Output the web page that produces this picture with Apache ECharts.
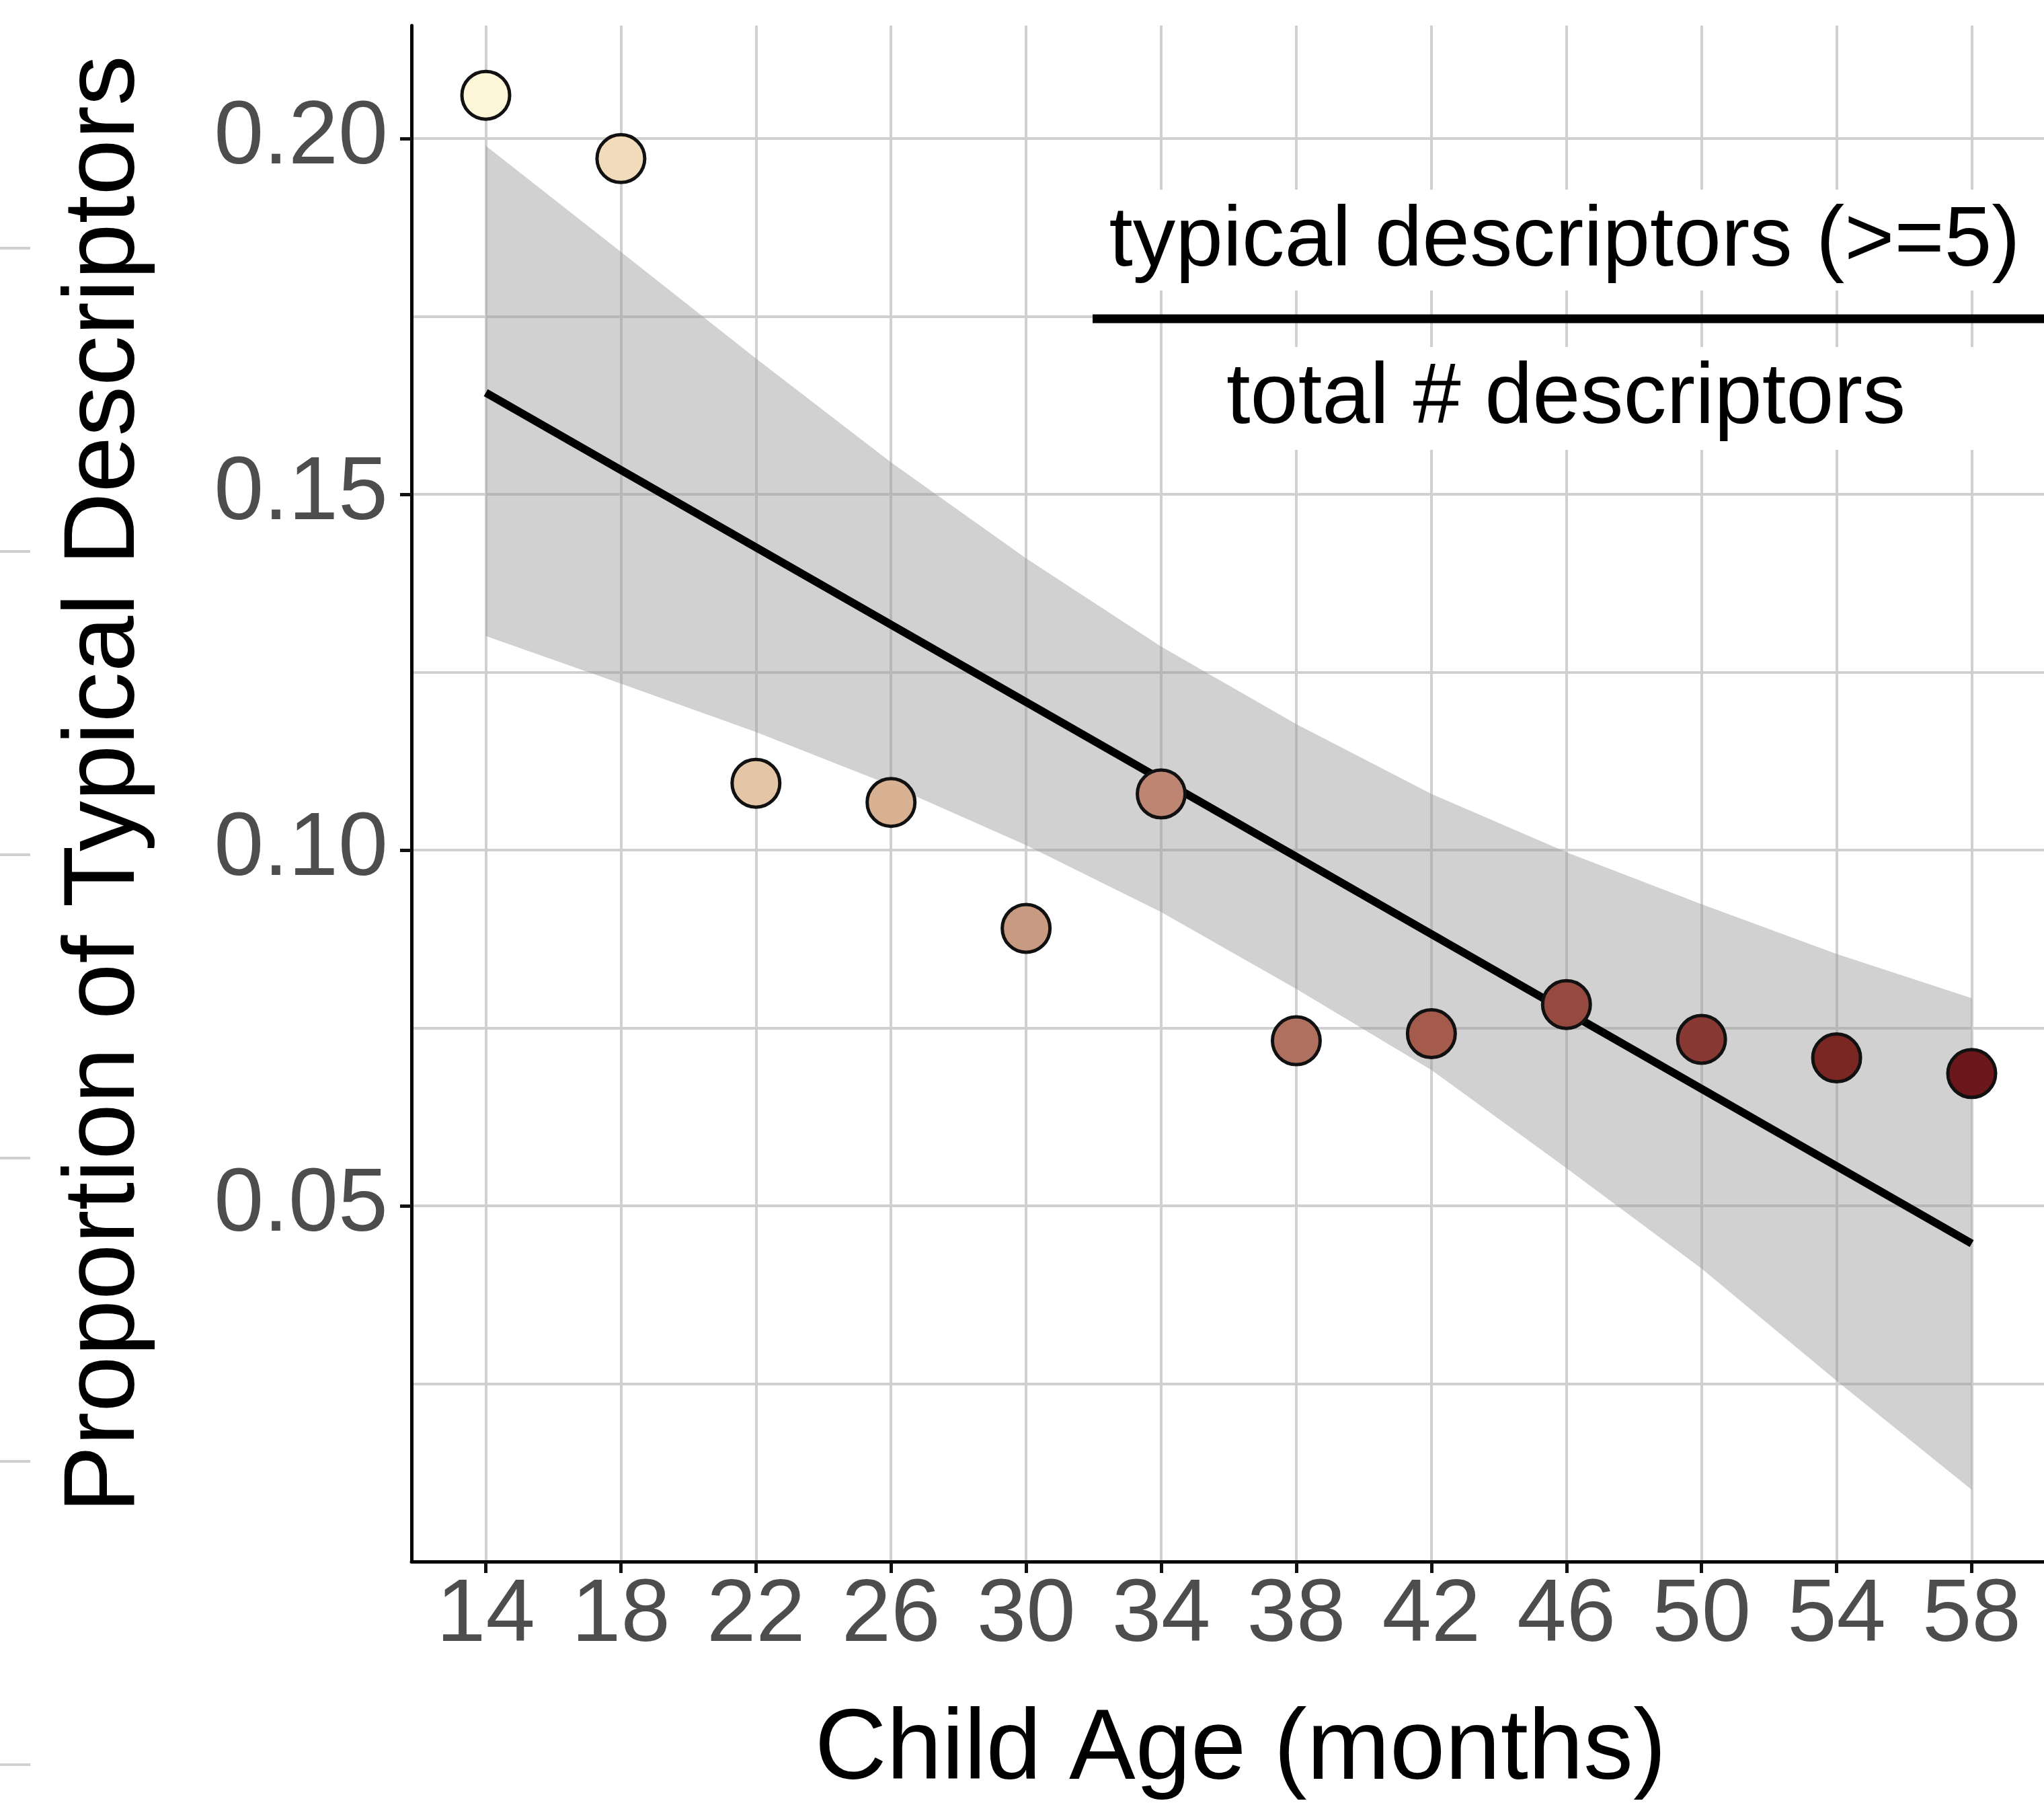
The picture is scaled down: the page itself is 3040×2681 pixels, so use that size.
<!DOCTYPE html>
<html>
<head>
<meta charset="utf-8">
<script src="https://cdn.jsdelivr.net/npm/echarts@6/dist/echarts.min.js"></script>
<style>
  html, body { margin: 0; padding: 0; background: #ffffff; }
  #chart { width: 3040px; height: 2681px; }
</style>
</head>
<body>
<div id="chart"></div>
<script>
// ---- data ----
const ages = [14, 18, 22, 26, 30, 34, 38, 42, 46, 50, 54, 58];
const proportions = [0.2061, 0.1972, 0.1094, 0.1067, 0.0890, 0.1079, 0.0732, 0.0742, 0.0783, 0.0734, 0.0708, 0.0686];
const pointColors = ['#FEF6D8', '#F1DBBA', '#E4C6A6', '#D8B092', '#C99A82', '#BE8672', '#B07060', '#A45B4C', '#964A3F', '#883933', '#7A2724', '#6B171B'];
const fitAges = [14, 58];
const fitValues = [0.1643, 0.0447];
const ciUpper = [0.1990, 0.1841, 0.1691, 0.1545, 0.1410, 0.1286, 0.1177, 0.1079, 0.0997, 0.0924, 0.0854, 0.0792];
const ciLower = [0.1301, 0.1234, 0.1166, 0.1091, 0.1007, 0.0913, 0.0805, 0.0691, 0.0553, 0.0412, 0.0254, 0.0101];
const xTickValues = [14, 18, 22, 26, 30, 34, 38, 42, 46, 50, 54, 58];
const yTickValues = [0.05, 0.10, 0.15, 0.20];
const xTitle = 'Child Age (months)';
const yTitle = 'Proportion of Typical Descriptors';
const noteTop = 'typical descriptors (>=5)';
const noteBottom = 'total # descriptors';

const FONT = '"Liberation Sans", Arial, Helvetica, sans-serif';
const GRID_COLOR = '#d0d0d0';

const chart = echarts.init(document.getElementById('chart'), null, { renderer: 'canvas' });

const scatterData = ages.map((a, i) => ({
  value: [a, proportions[i]],
  itemStyle: { color: pointColors[i] }
}));

const artifactYs = [369, 820, 1271, 1722, 2173, 2624];
const artifacts = artifactYs.map(y => ({
  type: 'line', z: 5,
  shape: { x1: 0, y1: y, x2: 45, y2: y },
  style: { stroke: '#cfcfcf', lineWidth: 4 }
}));

const option = {
  animation: false,
  backgroundColor: '#ffffff',
  grid: { left: 612, top: 38, width: 2431, height: 2284, containLabel: false, outerBoundsMode: 'none' },
  xAxis: {
    type: 'value', min: 11.8, max: 60.2,
    axisLine: { show: true, onZero: false, lineStyle: { color: '#000', width: 5 } },
    axisTick: { show: true, length: 17, customValues: xTickValues, lineStyle: { color: '#111', width: 5 } },
    axisLabel: { show: true, customValues: xTickValues, margin: 16, fontSize: 132, color: '#4d4d4d', fontFamily: FONT },
    splitLine: { show: true, lineStyle: { color: GRID_COLOR, width: 4 } }
  },
  yAxis: {
    type: 'value', min: 0, max: 0.2159, interval: 0.05,
    axisLine: { show: true, onZero: false, lineStyle: { color: '#000', width: 5 } },
    axisTick: { show: true, length: 17, customValues: yTickValues, lineStyle: { color: '#111', width: 5 } },
    axisLabel: {
      show: true, customValues: yTickValues, margin: 35, fontSize: 133, color: '#4d4d4d', fontFamily: FONT,
      formatter: v => (v === 0 ? '' : Number(v).toFixed(2))
    },
    splitLine: { show: true, lineStyle: { color: GRID_COLOR, width: 4 } },
    minorTick: { show: false, splitNumber: 2 },
    minorSplitLine: { show: true, lineStyle: { color: GRID_COLOR, width: 4 } }
  },
  series: [
    {
      type: 'custom', name: 'CI', z: 2, silent: true, clip: false,
      data: [[ages[0], ciUpper[0]]],
      encode: { x: 0, y: 1 },
      renderItem: function (params, api) {
        if (params.dataIndex !== 0) return null;
        const pts = [];
        for (let i = 0; i < ages.length; i++) pts.push(api.coord([ages[i], ciUpper[i]]));
        for (let i = ages.length - 1; i >= 0; i--) pts.push(api.coord([ages[i], ciLower[i]]));
        return { type: 'polygon', shape: { points: pts }, style: { fill: 'rgba(153,153,153,0.45)' } };
      }
    },
    {
      type: 'line', name: 'fit', z: 3, silent: true,
      data: fitAges.map((a, i) => [a, fitValues[i]]),
      symbol: 'none',
      lineStyle: { color: '#000', width: 12, cap: 'butt' }
    },
    {
      type: 'scatter', name: 'proportion', z: 4,
      data: scatterData,
      symbol: 'circle', symbolSize: 71,
      itemStyle: { borderColor: '#111', borderWidth: 5, opacity: 1 }
    }
  ],
  graphic: [
    {
      type: 'text', x: 158, y: 1166, rotation: Math.PI / 2, z: 10,
      style: { text: yTitle, font: '150px ' + FONT, fill: '#000', textAlign: 'center', textVerticalAlign: 'middle' }
    },
    {
      type: 'text', x: 1845, y: 2604, z: 10,
      style: { text: xTitle, font: '148px ' + FONT, fill: '#000', textAlign: 'center', textVerticalAlign: 'middle' }
    },
    { type: 'rect', z: 8, shape: { x: 1630, y: 282, width: 1410, height: 150 }, style: { fill: '#ffffff' } },
    { type: 'rect', z: 8, shape: { x: 1760, y: 516, width: 1210, height: 153 }, style: { fill: '#ffffff' } },
    {
      type: 'text', x: 2327, y: 360, z: 10,
      style: { text: noteTop, font: '127px ' + FONT, fill: '#000', textAlign: 'center', textVerticalAlign: 'middle' }
    },
    {
      type: 'text', x: 2329, y: 594, z: 10,
      style: { text: noteBottom, font: '128px ' + FONT, fill: '#000', textAlign: 'center', textVerticalAlign: 'middle' }
    },
    { type: 'line', z: 10, shape: { x1: 1625, y1: 474, x2: 3040, y2: 474 }, style: { stroke: '#000', lineWidth: 13 } }
  ].concat(artifacts)
};

chart.setOption(option);
</script>
</body>
</html>
